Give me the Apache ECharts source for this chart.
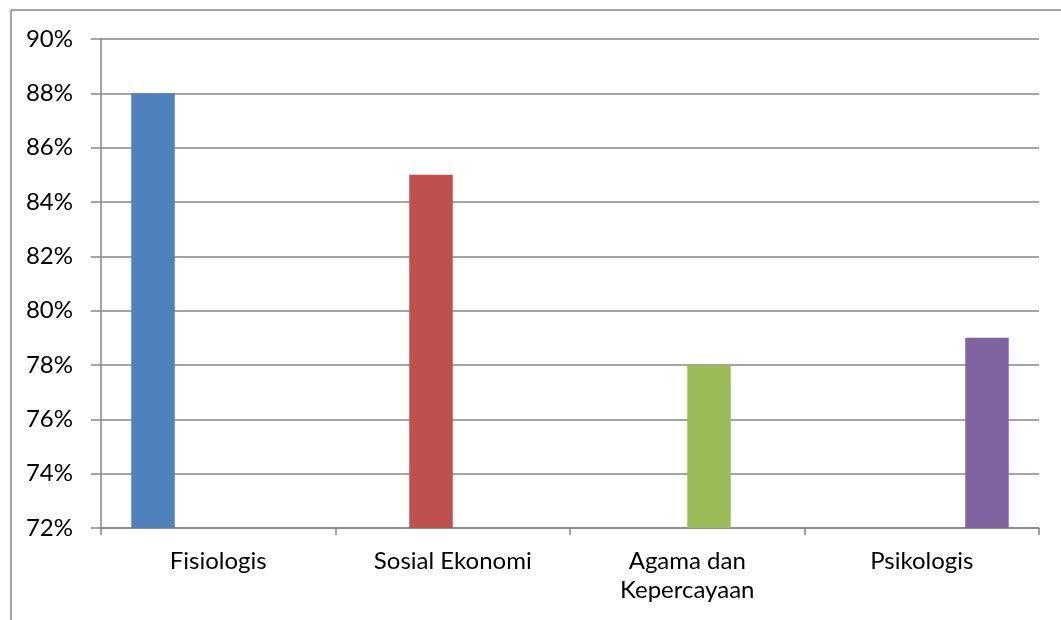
<!DOCTYPE html>
<html>
<head>
<meta charset="utf-8">
<script src="https://cdn.jsdelivr.net/npm/echarts@6/dist/echarts.min.js"></script>
<style>
html,body{margin:0;padding:0;background:#fff;}
#chart{width:1061px;height:620px;}
</style>
</head>
<body>
<div id="chart"></div>
<script>
const categories = ['Fisiologis', 'Sosial Ekonomi', 'Agama dan\nKepercayaan', 'Psikologis'];
const values = [88, 85, 78, 79];
const colors = ['#4F81BD', '#C0504D', '#9BBB59', '#8064A2'];
const yMin = 72, yMax = 90, yStep = 2;

const chart = echarts.init(document.getElementById('chart'));
const series = categories.map((c, i) => ({
  type: 'bar',
  name: c,
  data: categories.map((_, j) => j === i ? values[i] : null),
  itemStyle: { color: colors[i] },
  barGap: '0%',
  barCategoryGap: '25.8%'
}));

chart.setOption({
  animation: false,
  backgroundColor: '#fff',
  textStyle: { fontFamily: 'Lato' },
  grid: { left: 101, right: 22, top: 39, bottom: 92, containLabel: false },
  xAxis: {
    type: 'category',
    data: categories,
    axisLine: { show: true, lineStyle: { color: '#868686', width: 1.5 } },
    axisTick: { show: true, length: 7, alignWithLabel: false, lineStyle: { color: '#868686', width: 1.5 } },
    axisLabel: { color: '#000', fontSize: 24, fontFamily: 'Lato', margin: 19, lineHeight: 29, interval: 0 },
    splitLine: { show: false }
  },
  yAxis: {
    type: 'value',
    min: yMin, max: yMax, interval: yStep,
    axisLine: { show: true, lineStyle: { color: '#868686', width: 1.5 } },
    axisTick: { show: true, length: 10, lineStyle: { color: '#868686', width: 1.5 } },
    axisLabel: { color: '#000', fontSize: 24, fontFamily: 'Lato', margin: 28, formatter: '{value}%' },
    splitLine: { show: true, lineStyle: { color: '#868686', width: 1.5 } }
  },
  graphic: [
    { type: 'line', shape: { x1: 11, y1: 10, x2: 1061, y2: 10 }, style: { stroke: '#868686', lineWidth: 1.5 } },
    { type: 'line', shape: { x1: 11, y1: 10, x2: 11, y2: 620 }, style: { stroke: '#868686', lineWidth: 1.5 } }
  ],
  series: series
});
</script>
</body>
</html>
